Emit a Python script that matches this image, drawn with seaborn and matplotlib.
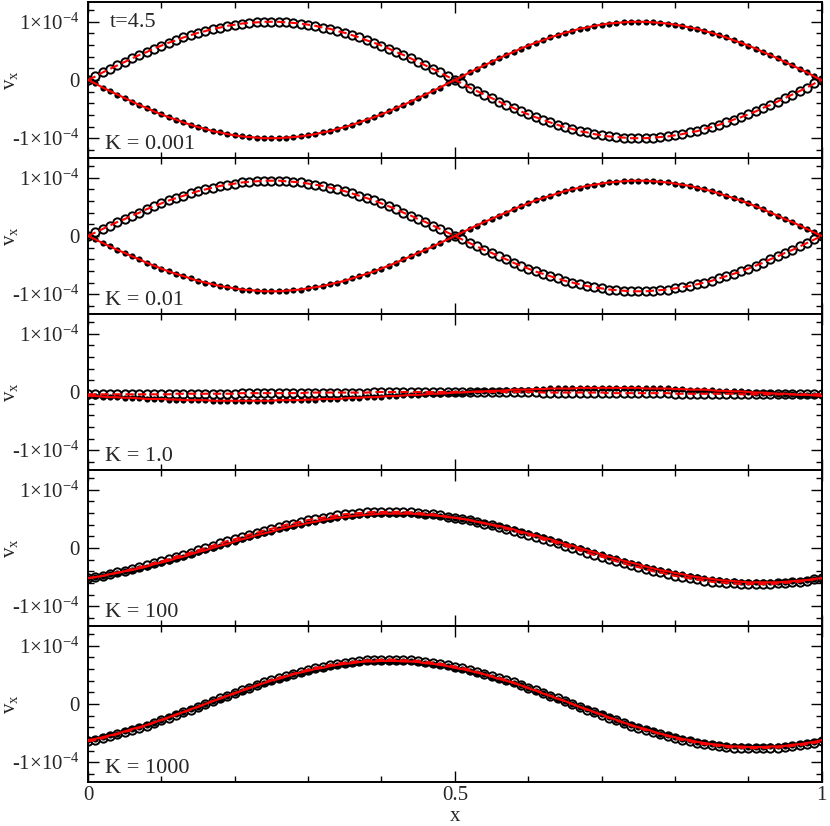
import numpy as np
import matplotlib.pyplot as plt
from matplotlib.ticker import MultipleLocator
import seaborn as sns

sns.set_theme(style='ticks')
plt.rcParams['font.family'] = ['Liberation Serif', 'DejaVu Serif']
plt.rcParams['mathtext.fontset'] = 'custom'
plt.rcParams['mathtext.rm'] = 'Liberation Serif'
plt.rcParams['mathtext.it'] = 'Liberation Serif:italic'

# x grid of the samples (101 points on [0, 1])
x = np.linspace(0, 1, 101)

# v_x values in units of 1e-6
# open circles (red dashed line) / small filled dots (red solid line)
k0001_open = [0, 6, 13, 19, 25, 31, 37, 43, 48, 54, 59, 64, 68, 73, 77, 81, 84, 88, 90, 93, 95, 97, 98, 99, 100, 100,
              100, 99, 98, 97, 95, 93, 90, 88, 84, 81, 77, 73, 68, 64, 59, 54, 48, 43, 37, 31, 25, 19, 13, 6, 0,
              -6, -13, -19, -25, -31, -37, -43, -48, -54, -59, -64, -68, -73, -77, -81, -84, -88, -90, -93, -95, -97, -98, -99, -100, -100,
              -100, -99, -98, -97, -95, -93, -90, -88, -84, -81, -77, -73, -68, -64, -59, -54, -48, -43, -37, -31, -25, -19, -13, -6, 0]
k0001_dot = [0, -6, -13, -19, -25, -31, -37, -43, -48, -54, -59, -64, -68, -73, -77, -81, -84, -88, -90, -93, -95, -97, -98, -99, -100, -100,
             -100, -99, -98, -97, -95, -93, -90, -88, -84, -81, -77, -73, -68, -64, -59, -54, -48, -43, -37, -31, -25, -19, -13, -6, 0,
             6, 13, 19, 25, 31, 37, 43, 48, 54, 59, 64, 68, 73, 77, 81, 84, 88, 90, 93, 95, 97, 98, 99, 100, 100,
             100, 99, 98, 97, 95, 93, 90, 88, 84, 81, 77, 73, 68, 64, 59, 54, 48, 43, 37, 31, 25, 19, 13, 6, 0]

k001_open = [0, 6, 12, 18, 24, 29, 35, 40, 46, 51, 56, 61, 65, 69, 73, 77, 80, 83, 86, 88, 90, 92, 93, 94, 95, 95,
             95, 94, 93, 92, 90, 88, 86, 83, 80, 77, 73, 69, 65, 61, 56, 51, 46, 40, 35, 29, 24, 18, 12, 6, 0,
             -6, -12, -18, -24, -29, -35, -40, -46, -51, -56, -61, -65, -69, -73, -77, -80, -83, -86, -88, -90, -92, -93, -94, -95, -95,
             -95, -94, -93, -92, -90, -88, -86, -83, -80, -77, -73, -69, -65, -61, -56, -51, -46, -40, -35, -29, -24, -18, -12, -6, 0]
k001_dot = [0, -6, -12, -18, -24, -29, -35, -40, -46, -51, -56, -61, -65, -69, -73, -77, -80, -83, -86, -88, -90, -92, -93, -94, -95, -95,
            -95, -94, -93, -92, -90, -88, -86, -83, -80, -77, -73, -69, -65, -61, -56, -51, -46, -40, -35, -29, -24, -18, -12, -6, 0,
            6, 12, 18, 24, 29, 35, 40, 46, 51, 56, 61, 65, 69, 73, 77, 80, 83, 86, 88, 90, 92, 93, 94, 95, 95,
            95, 94, 93, 92, 90, 88, 86, 83, 80, 77, 73, 69, 65, 61, 56, 51, 46, 40, 35, 29, 24, 18, 12, 6, 0]

k1_open = [-4, -4, -4, -4, -4, -4, -4, -4, -4, -4, -4, -4,
           -3, -3, -3, -3, -3, -3, -3, -3, -3,
           -2, -2, -2, -2, -2, -2, -2, -2, -2,
           -1, -1, -1, -1, -1, -1, -1, -1, -1,
           0, 0, 0, 0, 0, 0, 0, 0, 0, 0, 0, 0, 0, 0, 0, 0, 0, 0, 0, 0, 0, 0, 0,
           -1, -1, -1, -1, -1, -1, -1, -1, -1,
           -2, -2, -2, -2, -2, -2, -2, -2, -2,
           -3, -3, -3, -3, -3, -3, -3, -3, -3,
           -4, -4, -4, -4, -4, -4, -4, -4, -4, -4, -4, -4]
k1_dot = [-7, -7, -8, -9, -9, -10, -10, -11, -12, -12, -12, -13, -13, -14, -14, -14, -14, -15, -15, -15, -15, -15,
          -15, -15, -15, -15, -14, -14, -14, -14, -13, -13, -12, -12, -12, -11, -10, -10, -9, -9, -8, -7, -7, -6, -5, -5, -4,
          -3, -3, -2, -1, -1, 0, 1, 1, 2, 2, 3, 4, 4, 4, 5, 5, 6, 6, 6, 6, 7, 7, 7, 7, 7,
          7, 7, 7, 7, 6, 6, 6, 6, 5, 5, 4, 4, 4, 3, 2, 2, 1, 1, 0, -1, -1, -2, -3, -3, -4,
          -5, -5, -6, -7]

k100_open = [-52, -50, -48, -45, -42, -40, -36, -33, -30, -26, -23, -19, -15, -12, -8, -4, 0,
             4, 8, 12, 15, 19, 23, 26, 30, 33, 36, 40, 42, 45, 48, 50, 52, 54, 56, 58, 59, 60, 61, 62, 62, 62,
             62, 62, 61, 60, 59, 58, 56, 54, 52, 50, 48, 45, 42, 40, 36, 33, 30, 26, 23, 19, 15, 12, 8, 4, 0,
             -4, -8, -12, -15, -19, -23, -26, -30, -33, -36, -40, -42, -45, -48, -50, -52, -54, -56, -58, -59, -60, -61, -62, -62, -62,
             -62, -62, -61, -60, -59, -58, -56, -54, -52]
k100_dot = [-52, -50, -48, -45, -43, -40, -38, -35, -32, -28, -25, -22, -18, -15, -11, -7, -4, 0,
            4, 7, 11, 15, 18, 22, 25, 28, 32, 35, 38, 40, 43, 45, 48, 50, 52, 53, 55, 56, 57, 58, 59, 59, 59,
            59, 59, 58, 57, 56, 55, 53, 52, 50, 48, 45, 43, 40, 38, 35, 32, 28, 25, 22, 18, 15, 11, 7, 4, 0,
            -4, -7, -11, -15, -18, -22, -25, -28, -32, -35, -38, -40, -43, -45, -48, -50, -52, -53, -55, -56, -57, -58, -59, -59, -59,
            -59, -59, -58, -57, -56, -55, -53, -52]

k1000_open = [-64, -62, -59, -55, -52, -48, -45, -41, -37, -32, -28, -24, -19, -14, -10, -5, 0,
              5, 10, 14, 19, 24, 28, 32, 37, 41, 45, 48, 52, 55, 59, 62, 64, 67, 69, 71, 72, 74, 75, 75, 76, 76,
              76, 75, 75, 74, 72, 71, 69, 67, 64, 62, 59, 55, 52, 48, 45, 41, 37, 32, 28, 24, 19, 14, 10, 5, 0,
              -5, -10, -14, -19, -24, -28, -32, -37, -41, -45, -48, -52, -55, -59, -62, -64, -67, -69, -71, -72, -74, -75, -75, -76, -76,
              -76, -75, -75, -74, -72, -71, -69, -67, -64]
k1000_dot = [-62, -60, -57, -54, -51, -47, -43, -40, -36, -32, -27, -23, -18, -14, -9, -5, 0,
             5, 9, 14, 18, 23, 27, 32, 36, 40, 43, 47, 51, 54, 57, 60, 62, 65, 67, 69, 70, 72, 73, 73, 74, 74,
             74, 73, 73, 72, 70, 69, 67, 65, 62, 60, 57, 54, 51, 47, 43, 40, 36, 32, 27, 23, 18, 14, 9, 5, 0,
             -5, -9, -14, -18, -23, -27, -32, -36, -40, -43, -47, -51, -54, -57, -60, -62, -65, -67, -69, -70, -72, -73, -73, -74, -74,
             -74, -73, -73, -72, -70, -69, -67, -65, -62]

labels = ['K = 0.001', 'K = 0.01', 'K = 1.0', 'K = 100', 'K = 1000']
open_series = [k0001_open, k001_open, k1_open, k100_open, k1000_open]
dot_series = [k0001_dot, k001_dot, k1_dot, k100_dot, k1000_dot]

fig, axes = plt.subplots(5, 1, sharex=True, figsize=(8.3, 8.26), dpi=100)
fig.subplots_adjust(left=0.106, right=0.990, top=0.9976, bottom=0.0533, hspace=0)

for ax, lab, yo, yd in zip(axes, labels, open_series, dot_series):
    yo = np.array(yo) * 1e-6
    yd = np.array(yd) * 1e-6
    sns.scatterplot(x=x, y=yo, ax=ax, marker='o', s=36, color='white',
                    edgecolor='black', linewidth=1.4, zorder=2)
    sns.scatterplot(x=x, y=yd, ax=ax, marker='o', s=20, color='black',
                    linewidth=0, zorder=3)
    sns.lineplot(x=x, y=yo, ax=ax, color='red', lw=1.5, linestyle=(0, (4, 2)),
                 estimator=None, sort=False, zorder=4)
    sns.lineplot(x=x, y=yd, ax=ax, color='red', lw=1.5,
                 estimator=None, sort=False, zorder=4)

    ax.set_xlim(0, 1)
    ax.set_ylim(-1.34e-4, 1.34e-4)
    ax.set_yticks([-1e-4, 0, 1e-4])
    ax.set_yticklabels(['-1\u00d710$^{\\mathrm{-4}}$', '0', '1\u00d710$^{\\mathrm{-4}}$'])
    ax.yaxis.set_minor_locator(MultipleLocator(0.2e-4))
    ax.xaxis.set_major_locator(MultipleLocator(0.5))
    ax.xaxis.set_minor_locator(MultipleLocator(0.1))
    ax.tick_params(which='both', direction='in', top=True, right=True,
                   width=1.0, color='black', labelsize=15)
    ax.tick_params(axis='y', pad=6)
    ax.tick_params(axis='x', pad=3)
    ax.tick_params(which='major', length=8)
    ax.tick_params(which='minor', length=4.5)
    for sp in ax.spines.values():
        sp.set_linewidth(1.4)
        sp.set_color('black')
    ax.set_ylabel('v$_{\\mathrm{x}}$', fontsize=15)
    ax.yaxis.set_label_coords(-0.093, 0.5)
    ax.text(0.023, 0.058, lab, transform=ax.transAxes, fontsize=16,
            ha='left', va='baseline')

axes[0].text(0.030, 0.84, 't=4.5', transform=axes[0].transAxes, fontsize=16,
             ha='left', va='baseline')
axes[-1].set_xticks([0, 0.5, 1])
axes[-1].set_xticklabels(['0', '0.5', '1'])
axes[-1].set_xlabel('x', fontsize=15, labelpad=1)

fig.savefig('out.png', dpi=100)
